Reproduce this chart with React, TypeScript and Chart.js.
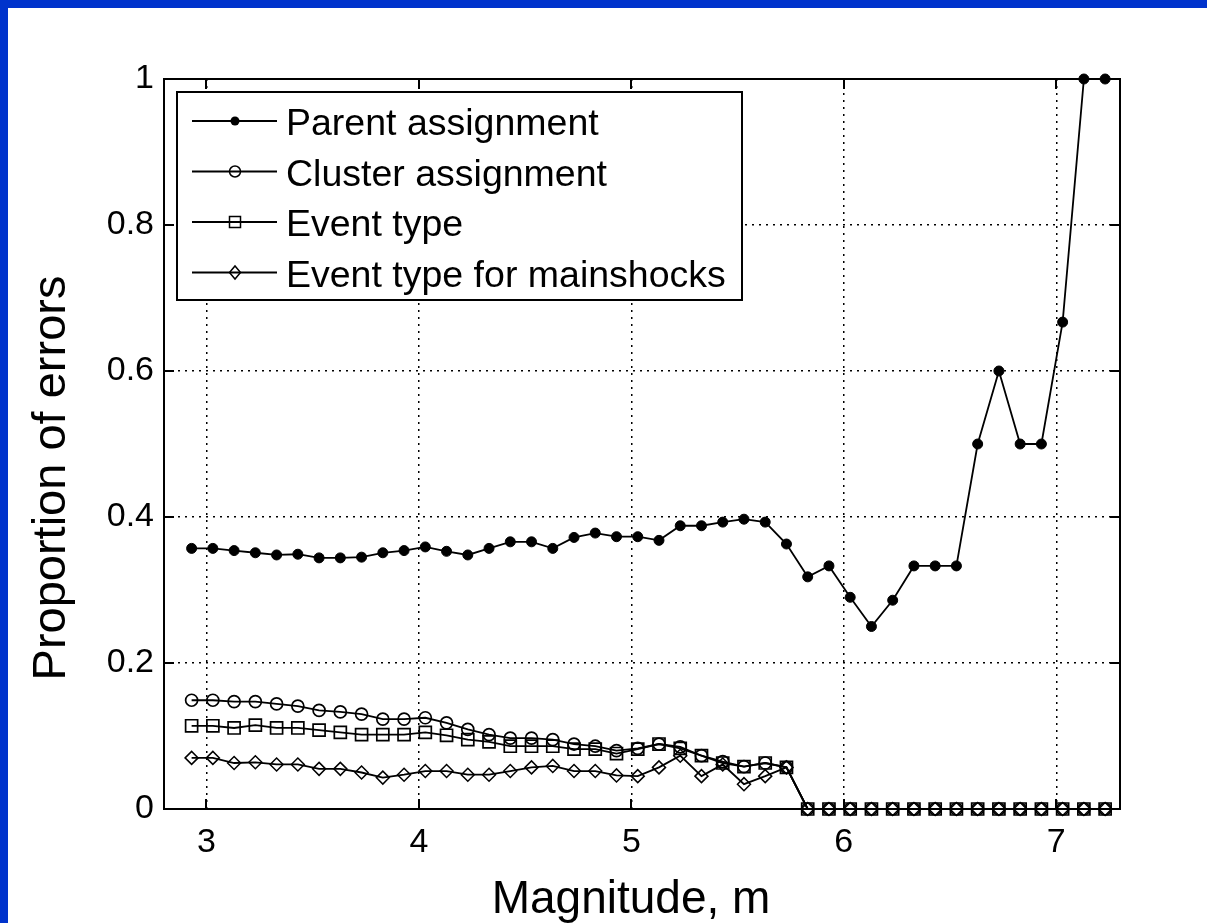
import React, { useEffect, useRef } from 'react';
import { Chart, registerables } from 'chart.js';

Chart.register(...registerables);

// Magnitude bins (x) and the proportion of misclassified events in each bin.
const magnitudes = [
  2.93, 3.03, 3.13, 3.23, 3.33, 3.43, 3.53, 3.63, 3.73, 3.83, 3.93,
  4.03, 4.13, 4.23, 4.33, 4.43, 4.53, 4.63, 4.73, 4.83, 4.93,
  5.03, 5.13, 5.23, 5.33, 5.43, 5.53, 5.63, 5.73, 5.83, 5.93,
  6.03, 6.13, 6.23, 6.33, 6.43, 6.53, 6.63, 6.73, 6.83, 6.93,
  7.03, 7.13, 7.23,
];

const parentErrors = [
  0.357, 0.357, 0.354, 0.351, 0.348, 0.349, 0.344, 0.344, 0.345, 0.351, 0.354,
  0.359, 0.353, 0.348, 0.357, 0.366, 0.366, 0.357, 0.372, 0.378, 0.373,
  0.373, 0.368, 0.388, 0.388, 0.393, 0.397, 0.393, 0.363, 0.318, 0.333,
  0.29, 0.25, 0.286, 0.333, 0.333, 0.333, 0.5, 0.6, 0.5, 0.5,
  0.667, 1, 1,
];

const clusterErrors = [
  0.149, 0.149, 0.147, 0.147, 0.144, 0.141, 0.135, 0.133, 0.13, 0.123, 0.123,
  0.125, 0.118, 0.109, 0.102, 0.097, 0.097, 0.095, 0.089, 0.086, 0.08,
  0.083, 0.089, 0.085, 0.073, 0.065, 0.058, 0.063, 0.057, 0, 0,
  0, 0, 0, 0, 0, 0, 0, 0, 0, 0,
  0, 0, 0,
];

const eventTypeErrors = [
  0.114, 0.114, 0.111, 0.115, 0.111, 0.111, 0.108, 0.105, 0.102, 0.102, 0.102,
  0.105, 0.101, 0.095, 0.092, 0.086, 0.086, 0.086, 0.082, 0.082, 0.076,
  0.082, 0.089, 0.083, 0.073, 0.063, 0.058, 0.063, 0.057, 0, 0,
  0, 0, 0, 0, 0, 0, 0, 0, 0, 0,
  0, 0, 0,
];

const mainshockErrors = [
  0.07, 0.07, 0.063, 0.064, 0.061, 0.061, 0.055, 0.055, 0.05, 0.043, 0.047,
  0.052, 0.052, 0.047, 0.047, 0.052, 0.057, 0.059, 0.052, 0.052, 0.046,
  0.045, 0.057, 0.073, 0.045, 0.061, 0.034, 0.045, 0.057, 0, 0,
  0, 0, 0, 0, 0, 0, 0, 0, 0, 0,
  0, 0, 0,
];

const seriesLabels = [
  'Parent assignment',
  'Cluster assignment',
  'Event type',
  'Event type for mainshocks',
];

const xTickValues = [3, 4, 5, 6, 7];
const yTickValues = [0, 0.2, 0.4, 0.6, 0.8, 1];

const xTitle = 'Magnitude, m';
const yTitle = 'Proportion of errors';

const FONT = '"Liberation Sans", Arial, Helvetica, sans-serif';
const CANVAS_W = 1199;
const CANVAS_H = 915;

type MarkerKind = 'dot' | 'circle' | 'square' | 'diamond';
const markerKinds: MarkerKind[] = ['dot', 'circle', 'square', 'diamond'];

const toPoints = (ys: number[]) => magnitudes.map((x, i) => ({ x, y: ys[i] }));

function drawMarker(ctx: CanvasRenderingContext2D, kind: MarkerKind, x: number, y: number) {
  ctx.beginPath();
  if (kind === 'dot') {
    ctx.arc(x, y, 4.5, 0, Math.PI * 2);
    ctx.fillStyle = '#000';
    ctx.fill();
    return;
  }
  if (kind === 'circle') {
    ctx.arc(x, y, 5.5, 0, Math.PI * 2);
  } else if (kind === 'square') {
    ctx.rect(x - 5.5, y - 5.5, 11, 11);
  } else {
    ctx.moveTo(x - 5.5, y);
    ctx.lineTo(x, y - 6.5);
    ctx.lineTo(x + 5.5, y);
    ctx.lineTo(x, y + 6.5);
    ctx.closePath();
  }
  ctx.lineWidth = 1.5;
  ctx.strokeStyle = '#000';
  ctx.stroke();
}

// Box around the axes with inward-pointing tick marks on all four sides.
const axesBoxPlugin = {
  id: 'axesBox',
  beforeDatasetsDraw(chart: any) {
    const { ctx, chartArea: a, scales } = chart;
    const len = 10;
    ctx.save();
    ctx.strokeStyle = '#000';
    ctx.lineWidth = 2;
    ctx.strokeRect(a.left, a.top, a.right - a.left, a.bottom - a.top);
    ctx.beginPath();
    xTickValues.forEach((v) => {
      const px = Math.round(scales.x.getPixelForValue(v));
      ctx.moveTo(px, a.bottom);
      ctx.lineTo(px, a.bottom - len);
      ctx.moveTo(px, a.top);
      ctx.lineTo(px, a.top + len);
    });
    yTickValues.forEach((v) => {
      const py = Math.round(scales.y.getPixelForValue(v));
      ctx.moveTo(a.left, py);
      ctx.lineTo(a.left + len, py);
      ctx.moveTo(a.right, py);
      ctx.lineTo(a.right - len, py);
    });
    ctx.stroke();
    ctx.restore();
  },
  afterDraw(chart: any) {
    const { ctx, chartArea: a } = chart;
    ctx.save();

    // Axis titles
    ctx.fillStyle = '#000';
    ctx.font = `46px ${FONT}`;
    ctx.textAlign = 'center';
    ctx.textBaseline = 'alphabetic';
    ctx.fillText(xTitle, 623, 905);

    ctx.save();
    ctx.translate(57, 470);
    ctx.rotate(-Math.PI / 2);
    ctx.font = `47px ${FONT}`;
    ctx.fillText(yTitle, 0, 0);
    ctx.restore();

    // Legend box in the upper-left corner of the axes
    const bx = a.left + 13;
    const by = a.top + 13;
    const bw = 565;
    const bh = 208;
    ctx.fillStyle = '#fff';
    ctx.fillRect(bx, by, bw, bh);
    ctx.strokeStyle = '#000';
    ctx.lineWidth = 2;
    ctx.strokeRect(bx, by, bw, bh);

    seriesLabels.forEach((label, i) => {
      const ry = by + 29 + i * 50.5;
      ctx.beginPath();
      ctx.moveTo(bx + 15, ry);
      ctx.lineTo(bx + 100, ry);
      ctx.strokeStyle = '#000';
      ctx.lineWidth = 1.8;
      ctx.stroke();
      drawMarker(ctx, markerKinds[i], bx + 58, ry);
      ctx.fillStyle = '#000';
      ctx.font = `37.5px ${FONT}`;
      ctx.textAlign = 'left';
      ctx.textBaseline = 'alphabetic';
      ctx.fillText(label, bx + 109, ry + 14);
    });

    ctx.restore();
  },
};

export default function App() {
  const canvasRef = useRef<HTMLCanvasElement | null>(null);

  useEffect(() => {
    const canvas = canvasRef.current;
    if (!canvas) return;

    const lineBase = {
      borderColor: '#000',
      borderWidth: 1.8,
      tension: 0,
      clip: false as const,
      pointBorderColor: '#000',
    };

    const chart = new Chart(canvas, {
      type: 'line',
      data: {
        datasets: [
          {
            ...lineBase,
            label: seriesLabels[0],
            data: toPoints(parentErrors),
            pointStyle: 'circle',
            pointRadius: 5,
            pointBackgroundColor: '#000',
            pointBorderWidth: 1,
            order: 4,
          },
          {
            ...lineBase,
            label: seriesLabels[1],
            data: toPoints(clusterErrors),
            pointStyle: 'circle',
            pointRadius: 6,
            pointBackgroundColor: 'rgba(0,0,0,0)',
            pointBorderWidth: 1.7,
            order: 3,
          },
          {
            ...lineBase,
            label: seriesLabels[2],
            data: toPoints(eventTypeErrors),
            pointStyle: 'rect',
            pointRadius: 8.5,
            pointBackgroundColor: 'rgba(0,0,0,0)',
            pointBorderWidth: 1.7,
            order: 2,
          },
          {
            ...lineBase,
            label: seriesLabels[3],
            data: toPoints(mainshockErrors),
            pointStyle: 'rectRot',
            pointRadius: 6.5,
            pointBackgroundColor: 'rgba(0,0,0,0)',
            pointBorderWidth: 1.5,
            order: 1,
          },
        ],
      },
      options: {
        responsive: false,
        animation: false,
        devicePixelRatio: 1,
        events: [],
        layout: { padding: { left: 0, top: 71, right: 87, bottom: 0 } },
        plugins: {
          legend: { display: false },
          tooltip: { enabled: false },
          title: { display: false },
        },
        scales: {
          x: {
            type: 'linear',
            min: 2.8,
            max: 7.3,
            afterBuildTicks: (s: any) => {
              s.ticks = xTickValues.map((value) => ({ value }));
            },
            afterFit: (s: any) => {
              s.height = 114;
            },
            grid: { color: '#000', lineWidth: 1.5, drawTicks: false },
            border: { display: false, dash: [2, 5] },
            ticks: {
              color: '#000',
              font: { family: FONT, size: 34 },
              padding: 13,
              maxRotation: 0,
              autoSkip: false,
              callback: (v: any) => String(v),
            },
          },
          y: {
            type: 'linear',
            min: 0,
            max: 1,
            afterBuildTicks: (s: any) => {
              s.ticks = yTickValues.map((value) => ({ value }));
            },
            afterFit: (s: any) => {
              s.width = 156;
            },
            grid: { color: '#000', lineWidth: 1.5, drawTicks: false },
            border: { display: false, dash: [2, 5] },
            ticks: {
              color: '#000',
              font: { family: FONT, size: 34 },
              padding: 10,
              autoSkip: false,
              callback: (v: any) => String(v),
            },
          },
        },
      },
      plugins: [axesBoxPlugin],
    });

    return () => chart.destroy();
  }, []);

  return (
    <div
      style={{
        position: 'fixed',
        left: 0,
        top: 0,
        width: 1207,
        height: 923,
        background: '#0033cc',
        overflow: 'hidden',
      }}
    >
      <div
        style={{
          position: 'absolute',
          left: 8,
          top: 8,
          width: CANVAS_W,
          height: CANVAS_H,
          background: '#fff',
        }}
      >
        <canvas
          ref={canvasRef}
          width={CANVAS_W}
          height={CANVAS_H}
          style={{ display: 'block', width: CANVAS_W, height: CANVAS_H }}
        />
      </div>
    </div>
  );
}
